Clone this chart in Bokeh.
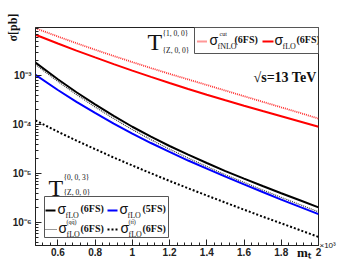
import math
from bokeh.plotting import figure
from bokeh.models import (Range1d, SingleIntervalTicker, LogTicker, FixedTicker, CustomJSTickFormatter,
                          Label, BoxAnnotation, Arrow, LinearAxis)
from bokeh.embed import file_html
from bokeh.resources import INLINE

# ---------------- data ----------------
m_T = [0.48, 0.6, 0.7, 0.8, 0.9, 1.0, 1.1, 1.2, 1.3, 1.4, 1.5, 1.6, 1.7, 1.8, 1.9, 2.0]  # x10^3 GeV

sigma_fNLO_cut_6FS = [9.22e-3, 6.25e-3, 4.56e-3, 3.36e-3, 2.50e-3, 1.88e-3, 1.42e-3, 1.08e-3,
                      8.32e-4, 6.40e-4, 4.92e-4, 3.78e-4, 2.91e-4, 2.24e-4, 1.73e-4, 1.32e-4]
sigma_fLO_6FS_100 = [6.78e-3, 4.50e-3, 3.22e-3, 2.34e-3, 1.71e-3, 1.26e-3, 9.36e-4, 7.03e-4,
                     5.30e-4, 4.05e-4, 3.12e-4, 2.42e-4, 1.88e-4, 1.47e-4, 1.15e-4, 9.0e-5]
sigma_fLO_6FS = [1.84e-3, 8.4e-4, 4.56e-4, 2.57e-4, 1.50e-4, 9.0e-5, 5.64e-5, 3.64e-5,
                 2.42e-5, 1.64e-5, 1.12e-5, 7.87e-6, 5.56e-6, 3.96e-6, 2.84e-6, 2.04e-6]
sigma_fLO_5FS = [1.03e-3, 5.06e-4, 2.89e-4, 1.72e-4, 1.04e-4, 6.52e-5, 4.19e-5, 2.76e-5,
                 1.84e-5, 1.26e-5, 8.64e-6, 6.0e-6, 4.19e-6, 2.94e-6, 2.08e-6, 1.48e-6]
sigma_fLO_qq_6FS = [1.67e-3, 7.58e-4, 4.09e-4, 2.28e-4, 1.32e-4, 7.89e-5, 4.90e-5, 3.13e-5,
                    2.07e-5, 1.39e-5, 9.41e-6, 6.58e-6, 4.61e-6, 3.25e-6, 2.32e-6, 1.65e-6]
sigma_fLO_tt_6FS = [1.21e-4, 7.13e-5, 4.69e-5, 3.15e-5, 2.12e-5, 1.46e-5, 1.01e-5, 7.06e-6,
                    4.99e-6, 3.56e-6, 2.55e-6, 1.83e-6, 1.32e-6, 9.63e-7, 7.0e-7, 5.08e-7]

# ---------------- geometry ----------------
XMIN, XMAX = 0.48, 2.0
YMIN, YMAX = 10 ** -6.469, 10 ** -2.0204
W, H = 352, 270
FL, FR, FT, FB = 35, 318, 27, 245   # frame edges in page pixels

def X(px):
    return XMIN + (px - FL) / (FR - FL) * (XMAX - XMIN)

def Y(py):
    lo, hi = math.log10(YMIN), math.log10(YMAX)
    return 10 ** (hi - (py - FT) / (FB - FT) * (hi - lo))

p = figure(width=W, height=H, output_backend="svg", toolbar_location=None,
           y_axis_type="log", x_range=Range1d(XMIN, XMAX), y_range=Range1d(YMIN, YMAX),
           min_border_left=FL, min_border_right=W - FR, min_border_top=FT, min_border_bottom=H - FB,
           background_fill_color="white", border_fill_color="white")
p.grid.visible = False
p.outline_line_color = "#222222"
p.outline_line_width = 1

SERIF = "Liberation Serif"
SANS = "Liberation Sans"
HAS_ALIGN = hasattr(p.xaxis[0], "axis_label_align")

# x axis
xa = p.xaxis[0]
xa.ticker = SingleIntervalTicker(interval=0.2, num_minor_ticks=5)
xa.formatter = CustomJSTickFormatter(code="return String(Math.round(tick*10)/10);")
# y axis
ya = p.yaxis[0]
ya.ticker = LogTicker(num_minor_ticks=10)
ya.formatter = CustomJSTickFormatter(code="""
const e = Math.round(Math.log10(tick));
const sup = {'-':'\u207b','0':'\u2070','1':'\u00b9','2':'\u00b2','3':'\u00b3','4':'\u2074','5':'\u2075','6':'\u2076','7':'\u2077','8':'\u2078','9':'\u2079'};
return '10' + String(e).split('').map(c => sup[c]).join('');
""")
for ax in (xa, ya):
    ax.axis_line_color = "#222222"
    ax.major_tick_in = 6
    ax.major_tick_out = 0
    ax.minor_tick_in = 3
    ax.minor_tick_out = 0
    ax.major_tick_line_color = "#222222"
    ax.minor_tick_line_color = "#222222"
    ax.major_label_text_font = SANS
    ax.major_label_text_font_style = "bold"
    ax.major_label_text_font_size = "10px"
    ax.major_label_text_color = "#222222"
    ax.axis_label_text_font = SERIF
    ax.axis_label_text_font_style = "bold"
    ax.axis_label_text_color = "#111111"
xa.major_label_standoff = 2
ya.major_label_standoff = 4

xa.axis_label = "m\u209c" + "\u00a0" * 9
xa.axis_label_text_font_size = "13px"
xa.axis_label_standoff = -14
ya.axis_label = "\u03c3[pb]"
ya.axis_label_text_font_size = "12px"
ya.axis_label_standoff = -11

# right-hand axis used only to carry the "x10^3" multiplier text
ra = LinearAxis(ticker=FixedTicker(ticks=[]), axis_line_color=None,
                major_tick_line_color=None, minor_tick_line_color=None,
                major_label_text_font_size="0px",
                axis_label="\u00d710\u00b3", axis_label_text_font=SANS,
                axis_label_text_font_style="normal", axis_label_text_font_size="8px",
                axis_label_orientation="horizontal", axis_label_standoff=1,
                axis_label_text_color="#111111")
p.add_layout(ra, "right")

if HAS_ALIGN:
    xa.axis_label_align = "end"
    ya.axis_label_align = "end"
    ra.axis_label_align = "start"

# curves
p.line(m_T, sigma_fNLO_cut_6FS, line_color="#ff3030", line_width=1.8, line_dash="1 1")
p.line(m_T, sigma_fLO_6FS_100, line_color="#ff0000", line_width=2)
p.line(m_T, sigma_fLO_6FS, line_color="black", line_width=2)
p.line(m_T, sigma_fLO_qq_6FS, line_color="#333333", line_width=1.2, line_dash="1 1")
p.line(m_T, sigma_fLO_5FS, line_color="#0000ff", line_width=2)
p.line(m_T, sigma_fLO_tt_6FS, line_color="black", line_width=2, line_dash="2 2")


def txt(s, px, py, size, font=SERIF, style="normal", align="left", baseline="middle", angle=0, color="#111111"):
    p.add_layout(Label(x=X(px), y=Y(py), text=s, text_font=font, text_font_style=style,
                       text_font_size=f"{size}px", text_align=align, text_baseline=baseline,
                       angle=angle, text_color=color))

def sample(x0, x1, py, color, width, dash="solid"):
    p.add_layout(Arrow(end=None, x_start=X(x0), y_start=Y(py), x_end=X(x1), y_end=Y(py),
                       line_color=color, line_width=width, line_dash=dash))

def box(l, r, t, b):
    p.add_layout(BoxAnnotation(left=X(l), right=X(r), top=Y(t), bottom=Y(b),
                               fill_color="white", fill_alpha=1.0,
                               line_color="#555555", line_width=1, line_alpha=1.0))

def sigma_entry(px, py, sub, sup=None, sup_dx=1):
    txt("\u03c3", px, py - 1, 14, font=SANS)
    txt(sub, px + 8, py + 6, 8)
    if sup:
        txt(sup, px + 8 + sup_dx, py - 7, 6)

# top legend
box(194, 318, 27, 53)
sample(197, 207, 41, "#ff3030", 1.8, "1 1")
sigma_entry(209, 40, "fNLO", "cut", 2)
txt("(6FS)", 234, 39, 10, style="bold")
sample(262, 273, 41, "#ff0000", 2)
sigma_entry(274, 40, "fLO")
txt("(6FS)", 296, 39, 10, style="bold")

# T label top
txt("T", 147, 41, 24)
txt("{1, 0, 0}", 162, 33, 7.5)
txt("{Z, 0, 0}", 162, 50, 7.5)

# sqrt(s)
txt("\u221as=13 TeV", 316, 77, 14, style="bold", align="right")

# T label bottom
txt("T", 48, 187, 24)
txt("{0, 0, 3}", 63, 177, 7.5)
txt("{Z, 0, 0}", 63, 192, 7.5)

# bottom legend
box(44, 168, 196, 237)
sample(45, 55, 210, "black", 2)
sigma_entry(57, 209, "fLO")
txt("(6FS)", 80, 208, 10, style="bold")
sample(107, 117, 210, "#0000ff", 2)
sigma_entry(119, 209, "fLO")
txt("(5FS)", 142, 208, 10, style="bold")
sample(45, 57, 229, "#333333", 1.2, "1 1")
sigma_entry(58, 228, "fLO", "(q\u0071\u0304)", 0)
txt("(6FS)", 80, 228, 10, style="bold")
sample(107, 118, 229, "black", 2, "2 2")
sigma_entry(120, 228, "fLO", "(t\u0074\u0304)", 0)
txt("(6FS)", 142, 228, 10, style="bold")

with open("out.html", "w") as f:
    f.write(file_html(p, INLINE))
